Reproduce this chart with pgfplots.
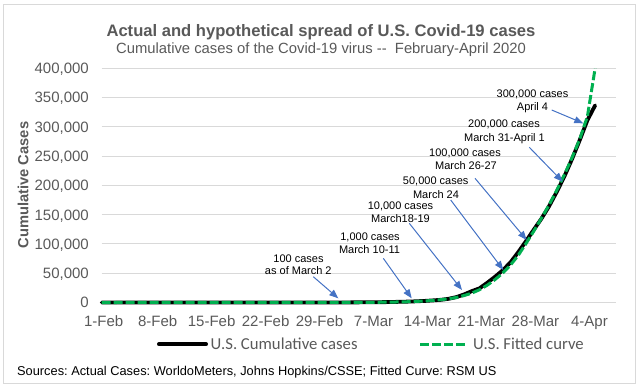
\documentclass[border=0pt]{standalone}
\usepackage{fontspec}
\setmainfont{Liberation Sans}
\newfontfamily\calibri{Carlito}
\usepackage{pgfplots}
\pgfplotsset{compat=1.18}
\usetikzlibrary{arrows.meta}
\definecolor{txt}{HTML}{595959}
\definecolor{gridc}{HTML}{D9D9D9}
\definecolor{fitgreen}{HTML}{00B050}
\definecolor{arrowblue}{HTML}{4472C4}
\frenchspacing

\pgfplotstableread{
d cases
0 8
1 8
2 11
3 11
4 11
5 12
6 12
7 12
8 12
9 12
10 13
11 13
12 14
13 15
14 15
15 15
16 15
17 15
18 15
19 15
20 15
21 35
22 35
23 53
24 53
25 57
26 60
27 60
28 68
29 75
30 100
31 124
32 158
33 221
34 319
35 435
36 541
37 704
38 994
39 1301
40 1630
41 2183
42 2770
43 3613
44 4596
45 6344
46 9197
47 13779
48 19367
49 24192
50 33592
51 43781
52 54856
53 68211
54 85435
55 104126
56 123578
57 142460
58 163788
59 188461
60 215003
61 244877
62 277161
63 311357
64 336673
}\actual

\pgfplotstableread{
d fit
0 5
4 8
8 11
12 14
16 17
20 22
24 30
28 45
30 70
32 120
34 220
36 420
38 800
40 1400
41 2000
42 2700
43 3600
44 4800
45 6400
46 8600
47 11800
48 16000
49 21800
50 29500
51 39000
52 50000
53 63500
54 80000
55 100000
56 121000
57 143000
58 166000
59 191000
60 218000
61 247000
62 279000
63 318000
64 400000
}\fitted

\begin{document}
\frenchspacing
\begin{tikzpicture}
\begin{scope}[x=1bp,y=1bp]
\path[use as bounding box] (0,0) rectangle (639,388);
\draw[gridc, line width=1bp] (3.3,4.7) rectangle (635.5,383);
\end{scope}
\begin{axis}[
  at={(101.7bp,85.5bp)}, anchor=south west,
  scale only axis, width=514bp, height=234.2bp,
  xmin=0, xmax=66.67, ymin=0, ymax=400000,
  clip=false,
  axis line style={draw=none},
  major tick length=0pt,
  ymajorgrids, grid style={gridc, line width=1bp},
  xtick={0,7,...,63},
  xticklabels={1-Feb,8-Feb,15-Feb,22-Feb,29-Feb,7-Mar,14-Mar,21-Mar,28-Mar,4-Apr},
  ytick={0,50000,100000,150000,200000,250000,300000,350000,400000},
  scaled y ticks=false,
  yticklabel={\pgfmathprintnumber[fixed, precision=0, 1000 sep={,}, assume math mode=true]{\tick}},
  ticklabel style={font=\fontsize{15bp}{18bp}\selectfont, text=txt, inner sep=0pt},
  yticklabel style={anchor=base east, xshift=-12.7bp, yshift=-5.4bp},
  xticklabel style={anchor=base, yshift=-23.5bp, xshift=2bp},
]
\addplot[black, line width=3.8bp, line cap=round, line join=round] table[x=d, y=cases] {\actual};
\addplot[fitgreen, line width=3bp, dash pattern=on 9bp off 3bp] table[x=d, y=fit] {\fitted};
\end{axis}
\begin{scope}[x=1bp,y=1bp]
\node[anchor=base, inner sep=0, text=txt, font=\bfseries\fontsize{16.6bp}{20bp}\selectfont] at (321,352) {Actual and hypothetical spread of U.S. Covid-19 cases};
\node[anchor=base, inner sep=0, text=txt, font=\fontsize{14.8bp}{18bp}\selectfont] at (321,335) {Cumulative cases of the Covid-19 virus {-}{-}\ \ February-April 2020};
\node[rotate=90, inner sep=0, text=txt, font=\bfseries\fontsize{14.7bp}{18bp}\selectfont] at (23,203) {Cumulative Cases};
% legend
\draw[black, line width=4bp, line cap=round] (159,43.7) -- (206,43.7);
\node[anchor=base west, inner sep=0, text=txt, font=\calibri\fontsize{16.7bp}{20bp}\selectfont] at (210.5,39) {U.S. Cumulative cases};
\draw[fitgreen, line width=3bp, dash pattern=on 9bp off 3bp] (420,43.7) -- (465,43.7);
\node[anchor=base west, inner sep=0, text=txt, font=\calibri\fontsize{16.7bp}{20bp}\selectfont] at (473,39) {U.S. Fitted curve};
% sources
\node[anchor=base west, inner sep=0, text=black, font=\fontsize{12.8bp}{15bp}\selectfont] at (17,12.3) {Sources: Actual Cases: WorldoMeters, Johns Hopkins/CSSE; Fitted Curve: RSM US};
% annotations
\begin{scope}[every node/.style={anchor=base, inner sep=0, text=black, font=\fontsize{11bp}{13bp}\selectfont}]
\node at (532.5,290.8) {300,000 cases};
\node at (532.5,277.1) {April 4};
\node at (504,260.8) {200,000 cases};
\node at (504.5,246.8) {March 31-April 1};
\node at (465,231.8) {100,000 cases};
\node at (466,218.1) {March 26-27};
\node at (435.7,203.1) {50,000 cases};
\node at (436,189.8) {March 24};
\node at (400.5,178.1) {10,000 cases};
\node at (400.5,165.8) {March18-19};
\node at (370,147.4) {1,000 cases};
\node at (369.5,134.8) {March 10-11};
\node at (298.5,125.1) {100 cases};
\node at (298.3,113.4) {as of March 2};
\end{scope}
\begin{scope}[arrowblue, line width=1bp, -{Triangle[length=9bp,width=7bp]}]
\draw (551.7,278) -- (583.3,264.7);
\draw (529.3,240.7) -- (562.7,206.3);
\draw (475,209.7) -- (526.7,148);
\draw (450.7,188) -- (503.3,118);
\draw (409.3,164.7) -- (462,98);
\draw (383.3,129.7) -- (411.7,89.7);
\draw (313.3,111.3) -- (338.3,89.7);
\end{scope}
\end{scope}
\end{tikzpicture}
\end{document}
